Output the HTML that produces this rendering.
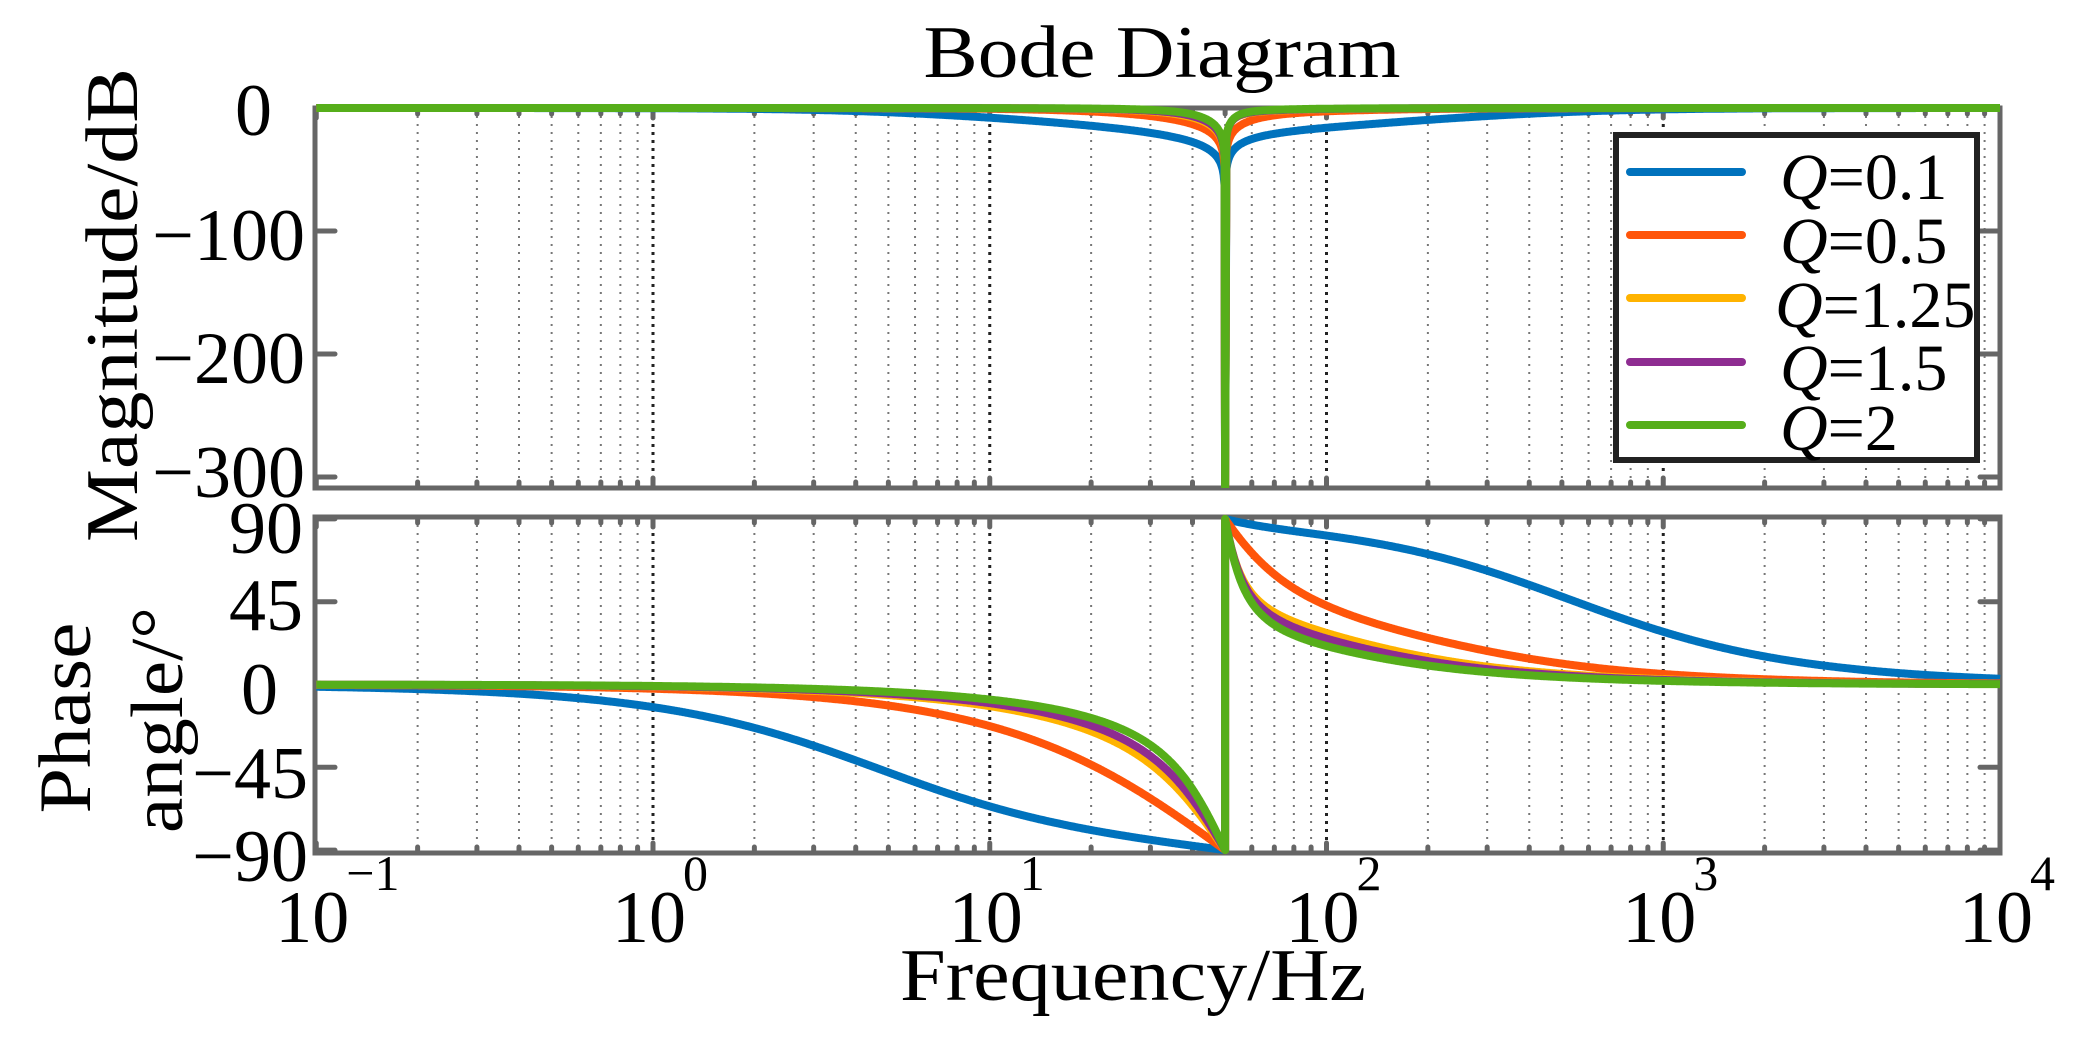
<!DOCTYPE html>
<html><head><meta charset="utf-8"><style>
html,body{margin:0;padding:0;background:#fff;}
svg{display:block;font-family:"Liberation Serif",serif;}
</style></head><body>
<svg id="s" width="2080" height="1056" viewBox="0 0 2080 1056" xmlns="http://www.w3.org/2000/svg">
<defs>
<clipPath id="cm"><rect x="315" y="98" width="1686" height="390"/></clipPath>
<clipPath id="cp"><rect x="315" y="512" width="1686" height="343"/></clipPath>
</defs>
<rect width="2080" height="1056" fill="#fff"/>
<g id="grid"></g>
<g id="ticks" stroke="#666" stroke-width="5" stroke-linecap="round"></g>
<rect x="315" y="108" width="1685" height="380" fill="none" stroke="#666" stroke-width="5"/>
<rect x="315" y="517" width="1685" height="336" fill="none" stroke="#666" stroke-width="5"/>
<g id="mag" clip-path="url(#cm)" fill="none" stroke-width="8" stroke-linejoin="round"></g>
<g id="pha" clip-path="url(#cp)" fill="none" stroke-width="8" stroke-linejoin="round"></g>
<g font-size="74" fill="#000">
<text x="1162" y="77" text-anchor="middle" textLength="477" lengthAdjust="spacingAndGlyphs">Bode Diagram</text>
<text x="1133" y="1000" text-anchor="middle" textLength="466" lengthAdjust="spacingAndGlyphs">Frequency/Hz</text>
<text x="272" y="135" text-anchor="end">0</text>
<text x="305" y="260" text-anchor="end">−100</text>
<text x="305" y="383" text-anchor="end">−200</text>
<text x="305" y="497" text-anchor="end">−300</text>
<text x="303" y="553" text-anchor="end">90</text>
<text x="303" y="630" text-anchor="end">45</text>
<text x="278" y="714" text-anchor="end">0</text>
<text x="308" y="798" text-anchor="end">−45</text>
<text x="308" y="881" text-anchor="end">−90</text>
<text transform="translate(137,305) rotate(-90)" text-anchor="middle" textLength="474" lengthAdjust="spacingAndGlyphs">Magnitude/dB</text>
<text transform="translate(90,718) rotate(-90)" text-anchor="middle" textLength="191" lengthAdjust="spacingAndGlyphs">Phase</text>
<text transform="translate(182,720) rotate(-90)" text-anchor="middle" textLength="226" lengthAdjust="spacingAndGlyphs">angle/°</text>
</g>
<g id="xl" fill="#000"></g>
<g>
<rect x="1616" y="135" width="361" height="325" fill="#fff" stroke="#222" stroke-width="6"/>
<g stroke-width="8" stroke-linecap="round">
<line x1="1630" y1="172" x2="1742" y2="172" stroke="#0072BD"/>
<line x1="1630" y1="235" x2="1742" y2="235" stroke="#FF550A"/>
<line x1="1630" y1="298" x2="1742" y2="298" stroke="#FFB300"/>
<line x1="1630" y1="362" x2="1742" y2="362" stroke="#8E2C91"/>
<line x1="1630" y1="425" x2="1742" y2="425" stroke="#56AE1A"/>
</g>
<g font-size="66" fill="#000">
<text x="1780" y="199"><tspan font-style="italic">Q</tspan>=0.1</text>
<text x="1780" y="263"><tspan font-style="italic">Q</tspan>=0.5</text>
<text x="1775" y="327"><tspan font-style="italic">Q</tspan>=1.25</text>
<text x="1780" y="390"><tspan font-style="italic">Q</tspan>=1.5</text>
<text x="1780" y="450"><tspan font-style="italic">Q</tspan>=2</text>
</g>
</g>
</svg>
<script>
(function(){
var NS="http://www.w3.org/2000/svg";
function X(f){return 653+Math.log10(f)*336.75;}
function MY(d){return 108-d*1.23;}
function PY(p){return 684.5-p*1.84;}
function el(t,a,p){var e=document.createElementNS(NS,t);for(var k in a)e.setAttribute(k,a[k]);p.appendChild(e);return e;}
var grid=document.getElementById('grid'),ticks=document.getElementById('ticks');
var panels=[[108,488],[517,853]];
for(var d=-1;d<=4;d++){for(var m=1;m<=9;m++){var f=m*Math.pow(10,d);if(f>10000.1)break;var x=X(f);
 if(f<0.099)continue;
 panels.forEach(function(p){
  if(x>317&&x<1998){
   if(m==1)el('line',{x1:x,y1:p[0],x2:x,y2:p[1],stroke:'#222','stroke-width':3,'stroke-dasharray':'3 5'},grid);
   else el('line',{x1:x,y1:p[0],x2:x,y2:p[1],stroke:'#777','stroke-width':2,'stroke-dasharray':'2 6'},grid);
  }
  var L=(m==1)?10:6;
  el('line',{x1:x,y1:p[0],x2:x,y2:p[0]+L},ticks);
  el('line',{x1:x,y1:p[1],x2:x,y2:p[1]-L},ticks);
 });
}}
[0,-100,-200,-300].forEach(function(v){var y=MY(v);el('line',{x1:315,y1:y,x2:335,y2:y},ticks);el('line',{x1:2000,y1:y,x2:1980,y2:y},ticks);});
[90,45,0,-45,-90].forEach(function(v){var y=PY(v);el('line',{x1:315,y1:y,x2:335,y2:y},ticks);el('line',{x1:2000,y1:y,x2:1980,y2:y},ticks);});
var xl=document.getElementById('xl');
for(var d=-1;d<=4;d++){var x=X(Math.pow(10,d));
 var t=el('text',{x:x-4,y:942,'text-anchor':'middle','font-size':74},xl);t.textContent='10';
 var s=el('text',{x:x+30,y:890,'font-size':50},xl);s.textContent=(d<0?'−':'')+Math.abs(d);}
var series=[
 {c:'#0072BD',k:10.9,cc:0.5,s:0.77},
 {c:'#FF550A',k:2.0,cc:0.5,s:2.0},
 {c:'#FFB300',k:1.0,cc:0.74,s:0.77},
 {c:'#8E2C91',k:0.86,cc:0.69,s:0.77},
 {c:'#56AE1A',k:0.69,cc:0.62,s:0.77}];
var f0=50,mag=document.getElementById('mag'),pha=document.getElementById('pha');
series.forEach(function(S){
 var mp=[],pp=[],N=1800,added=false;
 for(var i=0;i<=N;i++){
  var f=Math.pow(10,-1+5*i/N),x=f/f0;
  if(Math.abs(x-1)<0.004)continue;
  if(x>1&&!added){added=true;mp.push([X(f0),MY(-315)]);pp.push([X(f0),PY(-90)]);pp.push([X(f0),PY(90)]);}
  var k=S.k;
  if(x>1)k=S.k*(1-S.cc*Math.exp(-(x-1)/S.s));
  var a=1-x*x,b=k*x;
  var db=20*Math.log10(Math.abs(a)/Math.sqrt(a*a+b*b));
  var ph;
  if(x<1)ph=-Math.atan(b/a)*180/Math.PI;else ph=Math.atan(b/(-a))*180/Math.PI;
  mp.push([X(f),MY(Math.max(db,-315))]);pp.push([X(f),PY(ph)]);
 }
 function P(a){return 'M'+a.map(function(q){return q[0].toFixed(1)+','+q[1].toFixed(1);}).join('L');}
 el('path',{d:P(mp),stroke:S.c},mag);
 el('path',{d:P(pp),stroke:S.c},pha);
});
})();
</script>
</body></html>
